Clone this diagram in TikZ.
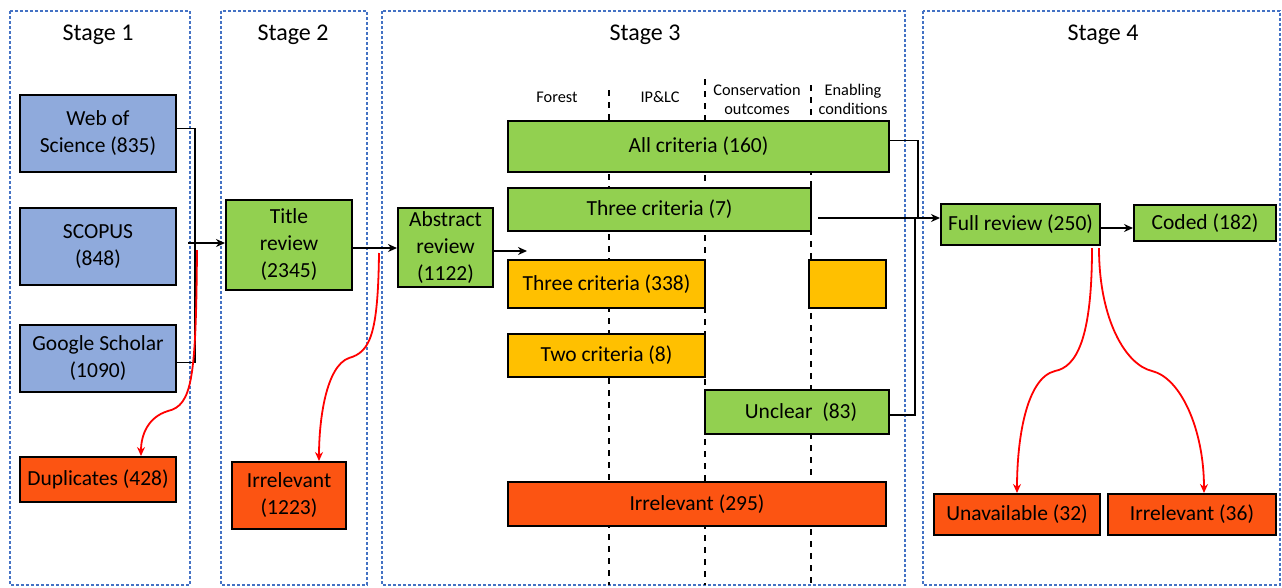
\documentclass[tikz,border=0pt]{standalone}
\usepackage{fontspec}
\setmainfont{Carlito}
\usetikzlibrary{arrows.meta}
\definecolor{dbblue}{HTML}{8FAADC}
\definecolor{revgreen}{HTML}{92D050}
\definecolor{partyellow}{HTML}{FFC000}
\definecolor{dropred}{HTML}{FC5412}
\definecolor{stageblue}{HTML}{4472C4}
\begin{document}
\begin{tikzpicture}[x=1pt, y=-1pt,
  box/.style={draw=black, line width=2pt, inner sep=2pt, align=center, font=\fontsize{21.5}{27}\selectfont},
  stagebox/.style={draw=stageblue, line width=1.6pt, dash pattern=on 3pt off 2pt},
  stagetitle/.style={font=\fontsize{24}{28}\selectfont},
  colhead/.style={align=center, font=\fontsize{16.3}{19}\selectfont},
  colline/.style={draw=black, line width=2.2pt, dash pattern=on 6pt off 6pt},
  conn/.style={draw=black, line width=1.9pt},
  arr/.style={conn, -{Stealth[length=9pt,width=8pt]}},
  droparr/.style={draw=red, line width=1.8pt, -{Stealth[length=9pt,width=8pt]}}]
\useasboundingbox (0,0) rectangle (1282,587);
\fill[white] (0,0) rectangle (1282,587);

\draw[stagebox] (10,11) rectangle (190,585);
\draw[stagebox] (221,11) rectangle (367,585);
\draw[stagebox] (382,11) rectangle (905,585);
\draw[stagebox] (923,11) rectangle (1280,585);

\node[stagetitle] (st1) at (98,35) {Stage 1};
\node[stagetitle] (st2) at (293,35) {Stage 2};
\node[stagetitle] (st3) at (645,35) {Stage 3};
\node[stagetitle] (st4) at (1103,35) {Stage 4};

\node[colhead] (hforest) at (557,97) {Forest};
\node[colhead] (hiplc) at (660,97) {IP\&LC};
\node[colhead] (hcons) at (757,99) {Conservation\\outcomes};
\node[colhead] (henab) at (853,99) {Enabling\\conditions};

\draw[colline] (609,90) -- (609,585);
\draw[colline] (705,79) -- (705,585);
\draw[colline] (811,85) -- (811,585);

\node[box, fill=dbblue, minimum width=156pt, minimum height=77pt] (wos) at (98,133.5) {Web of\\Science (835)};
\node[box, fill=dbblue, minimum width=156pt, minimum height=77pt] (scopus) at (98,246.5) {SCOPUS\\(848)};
\node[box, fill=dbblue, minimum width=156pt, minimum height=67pt] (scholar) at (98,358.5) {Google Scholar\\(1090)};
\node[box, fill=dropred, minimum width=156pt, minimum height=45pt] (dup) at (98,479.5) {Duplicates (428)};

\node[box, fill=revgreen, minimum width=126pt, minimum height=90pt] (title) at (289,245) {Title\\review\\(2345)};
\node[box, fill=dropred, minimum width=114pt, minimum height=67pt] (irrtitle) at (289,495.5) {Irrelevant\\(1223)};

\node[box, fill=revgreen, minimum width=95pt, minimum height=79pt] (abstract) at (445.5,247.5) {Abstract\\review\\(1122)};
\node[box, fill=revgreen, minimum width=381pt, minimum height=51pt] (allcrit) at (698.5,146.5) {All criteria (160)};
\node[box, fill=revgreen, minimum width=303pt, minimum height=43pt] (threeseven) at (659.5,209.5) {Three criteria (7)};
\node[box, fill=partyellow, minimum width=197pt, minimum height=48pt] (threepart) at (606.5,284) {Three criteria (338)};
\node[box, fill=partyellow, minimum width=77pt, minimum height=48pt] (enabpart) at (847.5,284) {};
\node[box, fill=partyellow, minimum width=197pt, minimum height=43pt] (twopart) at (606.5,355.5) {Two criteria (8)};
\node[box, fill=revgreen, minimum width=184pt, minimum height=44pt] (unclear) at (797,412) {\hspace*{8pt}Unclear~~(83)};
\node[box, fill=dropred, minimum width=378pt, minimum height=44pt] (irrabs) at (697,504) {Irrelevant (295)};

\node[box, fill=revgreen, minimum width=159pt, minimum height=41pt] (full) at (1020.5,224.5) {Full review (250)};
\node[box, fill=revgreen, minimum width=142pt, minimum height=36pt] (coded) at (1205,223) {Coded (182)};
\node[box, fill=dropred, minimum width=166pt, minimum height=41pt] (unavail) at (1017,514.5) {Unavailable (32)};
\node[box, fill=dropred, minimum width=168pt, minimum height=41pt] (irrfull) at (1192,514.5) {Irrelevant (36)};

\coordinate (join1) at (188,243);
\coordinate (cut1) at (197,250);
\coordinate (cut2) at (379,253);
\coordinate (absout) at (527,251);
\coordinate (merge) at (915,218);
\coordinate (threeout) at (818,218);
\coordinate (cut3) at (1092,248);
\coordinate (cut4) at (1099,248);

\draw[conn] ([yshift=5pt]wos.east) -| ([xshift=18pt,yshift=-4pt]scholar.east) -- ([yshift=-4pt]scholar.east);
\draw[arr] (join1) -- (title.west |- join1);
\draw[arr] (title.east |- 0,248) -- (abstract.west |- 0,248);
\draw[arr] (abstract.east |- absout) -- (absout);

\draw[conn] ([yshift=6pt]allcrit.east) -| ([xshift=3pt]merge);
\draw[conn] ([yshift=-3pt]unclear.east) -| (merge);
\draw[arr] (threeout) -- (full.west |- merge);
\draw[arr] (full.east |- 0,228) -- (coded.west |- 0,228);

\draw[droparr] (cut1) .. controls (196,380) and (192,405) .. (168,411) .. controls (148,417) and (141,435) .. ([xshift=43pt]dup.north);
\draw[droparr] (cut2) .. controls (378,335) and (370,352) .. (349,358) .. controls (326,366) and (319,420) .. ([xshift=30pt]irrtitle.north);
\draw[droparr] (cut3) .. controls (1092,340) and (1076,367) .. (1055,371) .. controls (1026,378) and (1017,440) .. (unavail.north);
\draw[droparr] (cut4) .. controls (1099,320) and (1126,365) .. (1152,371) .. controls (1181,378) and (1204,430) .. ([xshift=12pt]irrfull.north);
\end{tikzpicture}
\end{document}
